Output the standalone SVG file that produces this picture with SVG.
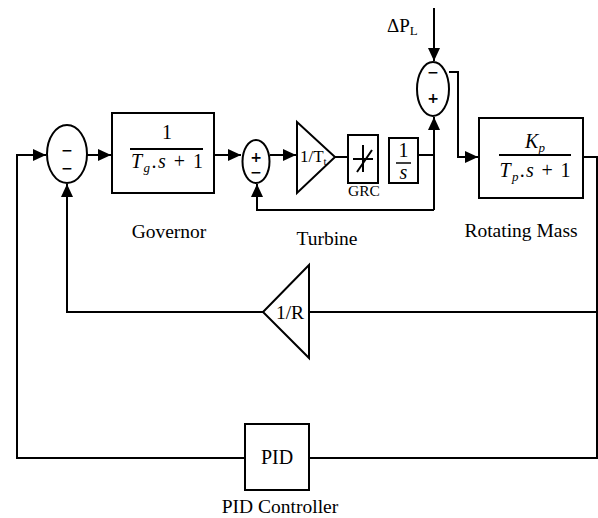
<svg xmlns="http://www.w3.org/2000/svg" width="598" height="518" viewBox="0 0 598 518">
<style>
.ln{fill:none;stroke:#000;stroke-width:2}
.bx{fill:#fff;stroke:#000;stroke-width:2}
.t{font-family:"Liberation Serif","Times New Roman",serif;fill:#000}
.lbl{font-size:19.5px;text-anchor:middle}
.sg{font-family:"DejaVu Sans",sans-serif;font-size:14px;font-weight:bold;text-anchor:middle;fill:#000}
.m{font-family:"Liberation Serif",serif;font-size:20px;fill:#000;text-anchor:middle}
.i{font-style:italic}
</style>
<defs>
<marker id="ar" markerUnits="userSpaceOnUse" markerWidth="14" markerHeight="12" refX="13" refY="6" orient="auto">
<path d="M0,0 L13,6 L0,12 z" fill="#000"/>
</marker>
</defs>
<rect width="598" height="518" fill="#fff"/>
<g id="connectors">
<path class="ln" d="M245,458 H17 V155 H46" marker-end="url(#ar)"/>
<path class="ln" d="M87,155 H111" marker-end="url(#ar)"/>
<path class="ln" d="M214,155 H241" marker-end="url(#ar)"/>
<path class="ln" d="M270,155 H296" marker-end="url(#ar)"/>
<path class="ln" d="M335,157 H348"/>
<path class="ln" d="M418,155 H434"/>
<path class="ln" d="M434,210 V117" marker-end="url(#ar)"/>
<path class="ln" d="M434,210 H257 V184" marker-end="url(#ar)"/>
<path class="ln" d="M434,8 V61" marker-end="url(#ar)"/>
<path class="ln" d="M449,72 H458 V157 H478" marker-end="url(#ar)"/>
<path class="ln" d="M583,157 H597 V458 H309"/>
<path class="ln" d="M597,312 H309"/>
<path class="ln" d="M263,312 H67 V184" marker-end="url(#ar)"/>
</g>
<g id="sum1">
<ellipse class="bx" cx="67" cy="154" rx="20" ry="29"/>
<text class="sg" x="67" y="155">−</text>
<text class="sg" x="67" y="173">−</text>
</g>
<g id="governor">
<rect class="bx" x="112" y="113" width="102" height="80"/>
<text class="m" x="167" y="139">1</text>
<line x1="130" y1="149" x2="203" y2="149" stroke="#000" stroke-width="2"/>
<text class="m" x="167" y="168" textLength="72" lengthAdjust="spacing"><tspan class="i">T</tspan><tspan class="i" font-size="13" dy="4">g</tspan><tspan dy="-4">.</tspan><tspan class="i">s</tspan> + 1</text>
<text class="t lbl" x="169" y="238">Governor</text>
</g>
<g id="sum2">
<ellipse class="bx" cx="256" cy="161.5" rx="13.5" ry="21.5"/>
<text class="sg" x="256" y="162" font-size="13">+</text>
<text class="sg" x="256" y="177" font-size="13">−</text>
</g>
<g id="turbine-gain">
<path class="bx" d="M297,122 L297,193 L335,157 z"/>
<text class="t" x="300" y="162" font-size="17">1/T<tspan font-size="11" dy="3">t</tspan></text>
</g>
<g id="grc">
<rect class="bx" x="348" y="135" width="30" height="48"/>
<path class="ln" d="M363,145 V172 M353,159 H373 M357,172 L372,150"/>
<text class="t" x="364" y="196" font-size="15.5" text-anchor="middle">GRC</text>
</g>
<g id="integrator">
<rect class="bx" x="389" y="138" width="29" height="45"/>
<text class="m" x="403.5" y="157" font-size="17">1</text>
<line x1="396" y1="163" x2="411" y2="163" stroke="#000" stroke-width="1.5"/>
<text class="m i" x="403.5" y="179" font-size="17">s</text>
</g>
<g id="turbine-label">
<text class="t lbl" x="327" y="245">Turbine</text>
</g>
<g id="load">
<text class="t" x="387" y="32" font-size="19">ΔP<tspan font-size="13" dy="3">L</tspan></text>
</g>
<g id="sum3">
<ellipse class="bx" cx="433" cy="89" rx="16" ry="27"/>
<text class="sg" x="433" y="77" font-size="15">−</text>
<text class="sg" x="433" y="103" font-size="15">+</text>
</g>
<g id="rotating-mass">
<rect class="bx" x="479" y="118" width="104" height="80"/>
<text class="m" x="535" y="148"><tspan class="i">K</tspan><tspan class="i" font-size="13" dy="4">p</tspan></text>
<line x1="499" y1="155" x2="571" y2="155" stroke="#000" stroke-width="2"/>
<text class="m" x="535" y="177" textLength="71" lengthAdjust="spacing"><tspan class="i">T</tspan><tspan class="i" font-size="13" dy="4">p</tspan><tspan dy="-4">.</tspan><tspan class="i">s</tspan> + 1</text>
<text class="t lbl" x="521" y="237">Rotating Mass</text>
</g>
<g id="droop">
<path class="bx" d="M309,265 L309,358 L263,312 z"/>
<text class="t" x="290" y="319" font-size="19.5" text-anchor="middle">1/R</text>
</g>
<g id="pid">
<rect class="bx" x="245" y="424" width="64" height="66"/>
<text class="t" x="277" y="464" font-size="20" text-anchor="middle">PID</text>
<text class="t lbl" x="280" y="513">PID Controller</text>
</g>
</svg>
